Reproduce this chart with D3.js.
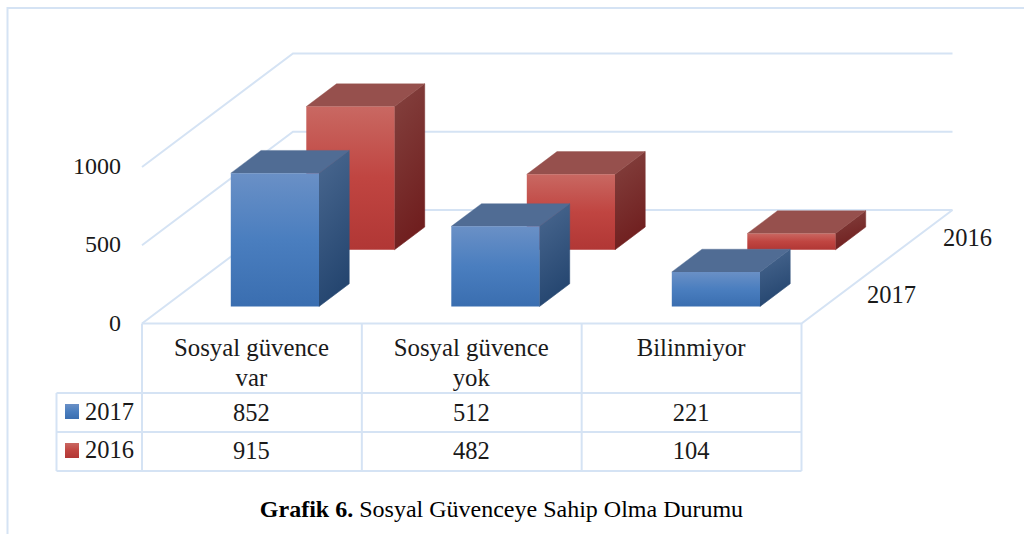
<!DOCTYPE html>
<html><head><meta charset="utf-8">
<script src="https://cdn.jsdelivr.net/npm/d3@7/dist/d3.min.js"></script>
<style>
html,body{margin:0;padding:0;background:#fff;overflow:hidden}
text{font-family:"Liberation Serif",serif;fill:#1a1a1a}
</style></head><body>
<svg id="c" width="1024" height="534"></svg>
<script>
const categories = ["Sosyal güvence var", "Sosyal güvence yok", "Bilinmiyor"];
const categoryLines = [["Sosyal güvence", "var"], ["Sosyal güvence", "yok"], ["Bilinmiyor"]];
const seriesNames = ["2017", "2016"];
const values2017 = [852, 512, 221];
const values2016 = [915, 482, 104];
const valueTicks = [0, 500, 1000];
const caption = ["Grafik 6.", " Sosyal Güvenceye Sahip Olma Durumu"];

const svg = d3.select("#c");
const gridCol = "#d5e3f4";
const serif = "Liberation Serif";

const floor = {x: 142, y: 323.5, w: 659.5, dx: 151, dy: 113.5};
const x = d3.scaleBand().domain(categories).range([0, 661.5]).paddingInner(0.6).paddingOuter(0.3);
const col = d3.scaleBand().domain(categories).range([floor.x, floor.x + floor.w]);
const depth = d3.scaleBand().domain(seriesNames).range([0, 1]).paddingInner(0.6).paddingOuter(0.3);
const h = d3.scaleLinear().domain([0, 1000]).range([0, 156.5]);
const yAxisScale = d3.scaleLinear().domain([0, 1000]).range([floor.y, floor.y - 156.5]);
// oblique projection: u along categories, v into the depth, val up
const P = (u, v, val) => [floor.x + u + v * floor.dx, floor.y - v * floor.dy - h(val)];
const poly = pts => d3.line()(pts) + "Z";

// gradients
const defs = svg.append("defs");
function grad(id, stops, x2, y2) {
  const g = defs.append("linearGradient").attr("id", id).attr("x1", 0).attr("y1", 0).attr("x2", x2).attr("y2", y2);
  stops.forEach(([o, c]) => g.append("stop").attr("offset", o).attr("stop-color", c));
}
grad("fb", [[0, "#6a90c6"], [0.5, "#4a7ebf"], [1, "#3a6eb0"]], 0, 1);
grad("fr", [[0, "#c96862"], [0.5, "#c04541"], [1, "#b13735"]], 0, 1);
grad("sb", [[0, "#4a6890"], [1, "#254670"]], 0.25, 1);
grad("sr", [[0, "#84423f"], [1, "#701f1f"]], 0.25, 1);
const styles = {
  "2017": {front: "url(#fb)", side: "url(#sb)", top: "#506c94"},
  "2016": {front: "url(#fr)", side: "url(#sr)", top: "#96504d"}
};

// outer frame
svg.append("path").attr("d", "M7.5,534V8H1024").attr("fill", "none").attr("stroke", gridCol).attr("stroke-width", 2);

// walls and floor
const wall = svg.append("g").attr("fill", "none").attr("stroke", gridCol).attr("stroke-width", 2);
valueTicks.forEach(t => {
  wall.append("path").attr("d", d3.line()([P(0, 0, t), P(0, 1, t), P(floor.w, 1, t)]));
});
wall.append("path").attr("d", d3.line()([P(0, 0, 0), P(floor.w, 0, 0), P(floor.w, 1, 0)]));

// value axis
const axis = d3.axisLeft(yAxisScale).tickValues(valueTicks).tickSize(0).tickPadding(0).tickFormat(d3.format("d"));
const ag = svg.append("g").attr("transform", "translate(121,0)").call(axis);
ag.select(".domain").remove();
ag.selectAll("text").attr("font-size", 24).attr("font-family", serif).attr("fill", "#1a1a1a").attr("dy", "0.25em");
ag.selectAll(".tick").attr("transform", d => `translate(0,${yAxisScale(d) + 1})`);

// bars, back series first
const rows = seriesNames.map((s, i) => ({s, vals: i === 0 ? values2017 : values2016}));
[...rows].reverse().forEach(({s, vals}) => {
  const g = svg.append("g");
  const v0 = depth(s), v1 = v0 + depth.bandwidth();
  categories.forEach((c, i) => {
    const u0 = x(c), u1 = u0 + x.bandwidth(), val = vals[i];
    g.append("path").attr("fill", styles[s].side).attr("stroke", styles[s].side).attr("stroke-width", 0.6).attr("d", poly([P(u1, v0, 0), P(u1, v1, 0), P(u1, v1, val), P(u1, v0, val)]));
    g.append("path").attr("fill", styles[s].top).attr("stroke", styles[s].top).attr("stroke-width", 0.4).attr("d", poly([P(u0, v0, val), P(u1, v0, val), P(u1, v1, val), P(u0, v1, val)]));
    g.append("path").attr("fill", styles[s].front).attr("d", poly([P(u0, v0, 0), P(u1, v0, 0), P(u1, v0, val), P(u0, v0, val)]));
  });
});

// depth labels
svg.append("text").attr("x", 943).attr("y", 245.5).attr("font-size", 24.5).text(seriesNames[1]);
svg.append("text").attr("x", 867).attr("y", 303).attr("font-size", 24.5).text(seriesNames[0]);

// data table
const rowY = [393, 432, 471];
const legendX = 56.5;
const colEdges = [...categories.map(c => col(c)), floor.x + floor.w];
const tbl = svg.append("g").attr("stroke", gridCol).attr("stroke-width", 2).attr("fill", "none");
colEdges.forEach(e => tbl.append("line").attr("x1", e).attr("x2", e).attr("y1", floor.y).attr("y2", rowY[2]));
rowY.forEach(y => tbl.append("line").attr("x1", legendX).attr("x2", floor.x + floor.w).attr("y1", y).attr("y2", y));
tbl.append("line").attr("x1", legendX).attr("x2", legendX).attr("y1", rowY[0]).attr("y2", rowY[2]);

categories.forEach((c, i) => {
  const cx = col(c) + col.bandwidth() / 2 - 0.5;
  categoryLines[i].forEach((ln, k) => {
    svg.append("text").attr("x", cx).attr("y", 356 + k * 30).attr("text-anchor", "middle").attr("font-size", 24.8).text(ln);
  });
  rows.forEach((r, j) => {
    svg.append("text").attr("x", cx).attr("y", 420.5 + j * 38.5).attr("text-anchor", "middle").attr("font-size", 24.5).text(r.vals[i]);
  });
});
rows.forEach((r, j) => {
  svg.append("rect").attr("x", 65).attr("y", 404 + j * 39).attr("width", 14).attr("height", 15).attr("fill", styles[r.s].front);
  svg.append("text").attr("x", 85).attr("y", 419.5 + j * 38.5).attr("font-size", 24.5).text(r.s);
});

// caption
const cap = svg.append("text").attr("x", 501.5).attr("y", 517).attr("text-anchor", "middle").attr("font-size", 24).style("fill", "#000");
cap.append("tspan").attr("font-weight", "bold").text(caption[0]);
cap.append("tspan").text(caption[1]);
</script>
</body></html>
